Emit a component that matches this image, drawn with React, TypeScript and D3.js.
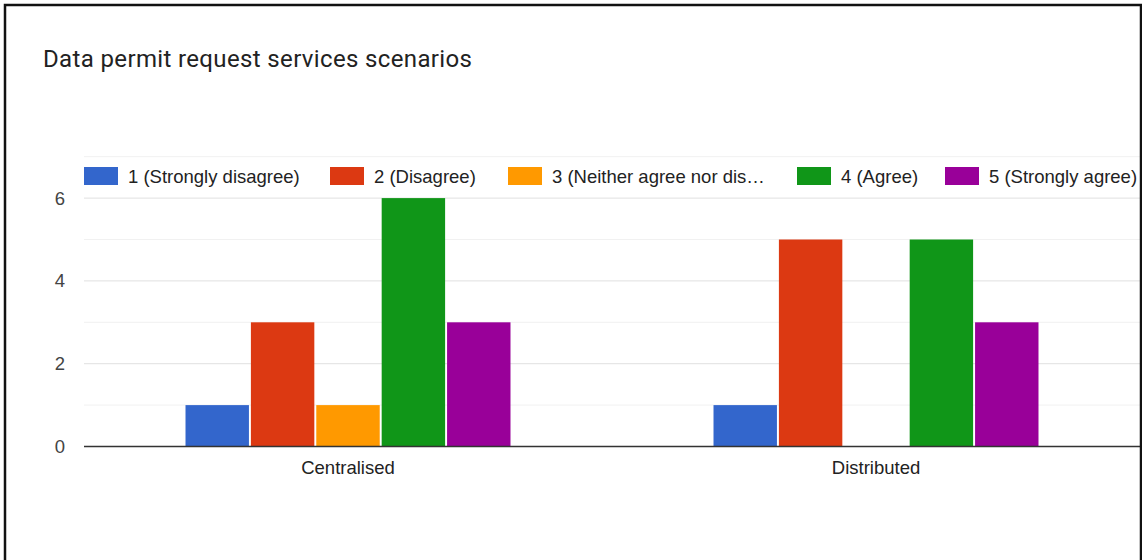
import React from "react";
import * as d3 from "d3";

const title = "Data permit request services scenarios";
const categories = ["Centralised", "Distributed"];
const seriesNames = [
  "1 (Strongly disagree)",
  "2 (Disagree)",
  "3 (Neither agree nor dis…",
  "4 (Agree)",
  "5 (Strongly agree)",
];
const seriesColors = ["#3366cc", "#dc3912", "#ff9900", "#109618", "#990099"];
const stronglyDisagree = [1, 1];
const disagree = [3, 5];
const neither = [1, 0];
const agree = [6, 5];
const stronglyAgree = [3, 3];
const seriesValues = [stronglyDisagree, disagree, neither, agree, stronglyAgree];
const majorTicks = [0, 2, 4, 6];
const minorTicks = [1, 3, 5, 7];
const legendX = [84, 330, 508, 797, 945];

const W = 1142;
const H = 560;
const plotLeft = 84;
const plotRight = 1140;
const plotTop = 156.7;
const plotBottom = 446.5;

export default function App() {
  const y = d3.scaleLinear().domain([0, 7]).range([plotBottom, plotTop]);
  const x0 = d3
    .scaleBand<string>()
    .domain(categories)
    .range([plotLeft, plotRight])
    .paddingInner(0.3845)
    .paddingOuter(0.3845 / 2);
  const x1 = d3
    .scaleBand<number>()
    .domain(d3.range(seriesNames.length))
    .range([0, x0.bandwidth()])
    .paddingInner(0.03)
    .paddingOuter(0);
  const font = "'Liberation Sans', Arial, sans-serif";
  const fs = 18.5;
  return (
    <svg
      width={W}
      height={H}
      style={{ position: "absolute", left: 0, top: 0, background: "#fff" }}
    >
      <rect x={0} y={0} width={W} height={H} fill="#fff" />
      <defs>
        <clipPath id="clipR">
          <rect x={0} y={0} width={1140} height={H} />
        </clipPath>
      </defs>
      <g clipPath="url(#clipR)">
        <text
          x={43}
          y={67}
          fontFamily="Roboto, sans-serif"
          fontSize={24}
          fill="#222"
          textLength={429}
          lengthAdjust="spacing"
        >
          {title}
        </text>
        {minorTicks.map((t) => (
          <line
            key={"m" + t}
            x1={plotLeft}
            x2={plotRight}
            y1={y(t)}
            y2={y(t)}
            stroke="#f1f1f1"
            strokeWidth={1}
          />
        ))}
        {majorTicks.map((t) => (
          <g key={"t" + t}>
            {t !== 0 && (
              <line
                x1={plotLeft}
                x2={plotRight}
                y1={y(t)}
                y2={y(t)}
                stroke="#e0e0e0"
                strokeWidth={1}
              />
            )}
            <text
              x={65}
              y={y(t)}
              dy="0.35em"
              textAnchor="end"
              fontFamily={font}
              fontSize={fs}
              fill="#444"
            >
              {t}
            </text>
          </g>
        ))}
        {categories.map((c, ci) => (
          <g key={c}>
            {seriesValues.map((vals, si) =>
              vals[ci] > 0 ? (
                <rect
                  key={si}
                  x={(x0(c) as number) + (x1(si) as number)}
                  y={y(vals[ci])}
                  width={x1.bandwidth()}
                  height={y(0) - y(vals[ci])}
                  fill={seriesColors[si]}
                />
              ) : null
            )}
            <text
              x={(x0(c) as number) + x0.bandwidth() / 2}
              y={474}
              textAnchor="middle"
              fontFamily={font}
              fontSize={fs}
              fill="#222"
            >
              {c}
            </text>
          </g>
        ))}
        <line
          x1={plotLeft}
          x2={plotRight}
          y1={y(0)}
          y2={y(0)}
          stroke="#333"
          strokeWidth={1.5}
        />
        {seriesNames.map((n, i) => (
          <g key={n} transform={`translate(${legendX[i]},167)`}>
            <rect x={0} y={0} width={34} height={18} fill={seriesColors[i]} />
            <text
              x={44}
              y={9}
              dy="0.36em"
              fontFamily={font}
              fontSize={fs}
              fill="#222"
            >
              {n}
            </text>
          </g>
        ))}
      </g>
      <path
        d={`M5,${H + 5} V5 H1141 V${H + 5}`}
        fill="none"
        stroke="#111"
        strokeWidth={2.5}
      />
    </svg>
  );
}
